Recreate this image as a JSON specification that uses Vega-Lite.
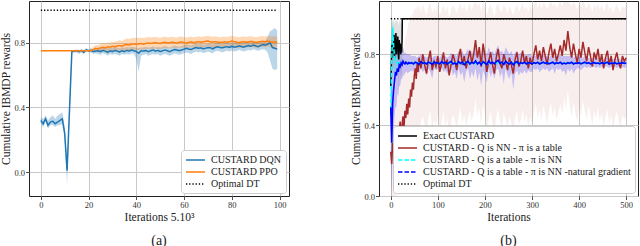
{
"$schema": "https://vega.github.io/schema/vega-lite/v6.json",
"padding": {"left": 0, "top": 0, "right": 0, "bottom": 0},
"autosize": {"type": "pad"},
"spacing": 90,
"bounds": "flush",
"datasets": {
"dqn": [
{"x":0,"y":0.32,"l":0.30,"h":0.34},{"x":1,"y":0.30,"l":0.28,"h":0.33},{"x":2,"y":0.33,"l":0.31,"h":0.35},{"x":3,"y":0.29,"l":0.27,"h":0.32},{"x":4,"y":0.31,"l":0.29,"h":0.34},{"x":5,"y":0.315,"l":0.29,"h":0.35},{"x":6,"y":0.30,"l":0.28,"h":0.33},{"x":7,"y":0.31,"l":0.29,"h":0.35},{"x":8,"y":0.32,"l":0.29,"h":0.36},{"x":9,"y":0.33,"l":0.30,"h":0.37},
{"x":10,"y":0.24,"l":0.21,"h":0.28},{"x":11,"y":0.01,"l":-0.08,"h":0.06},{"x":12,"y":0.38,"l":0.34,"h":0.42},{"x":13,"y":0.745,"l":0.735,"h":0.755},{"x":14,"y":0.748,"l":0.74,"h":0.755},{"x":15,"y":0.75,"l":0.74,"h":0.76},{"x":16,"y":0.745,"l":0.73,"h":0.755},{"x":17,"y":0.752,"l":0.74,"h":0.76},{"x":18,"y":0.74,"l":0.73,"h":0.755},{"x":19,"y":0.755,"l":0.745,"h":0.765},
{"x":20,"y":0.75,"l":0.74,"h":0.76},{"x":21,"y":0.752,"l":0.74,"h":0.765},{"x":22,"y":0.745,"l":0.73,"h":0.76},{"x":23,"y":0.748,"l":0.735,"h":0.765},{"x":24,"y":0.75,"l":0.73,"h":0.77},{"x":25,"y":0.745,"l":0.725,"h":0.765},{"x":26,"y":0.752,"l":0.735,"h":0.77},{"x":27,"y":0.748,"l":0.73,"h":0.77},{"x":28,"y":0.74,"l":0.72,"h":0.765},{"x":29,"y":0.75,"l":0.73,"h":0.77},
{"x":30,"y":0.745,"l":0.725,"h":0.768},{"x":31,"y":0.752,"l":0.73,"h":0.775},{"x":32,"y":0.748,"l":0.725,"h":0.77},{"x":33,"y":0.742,"l":0.72,"h":0.765},{"x":34,"y":0.75,"l":0.73,"h":0.772},{"x":35,"y":0.745,"l":0.725,"h":0.768},{"x":36,"y":0.752,"l":0.73,"h":0.775},{"x":37,"y":0.748,"l":0.725,"h":0.77},{"x":38,"y":0.755,"l":0.735,"h":0.775},{"x":39,"y":0.75,"l":0.73,"h":0.772},
{"x":40,"y":0.745,"l":0.70,"h":0.77},{"x":41,"y":0.735,"l":0.62,"h":0.765},{"x":42,"y":0.75,"l":0.72,"h":0.772},{"x":43,"y":0.748,"l":0.725,"h":0.77},{"x":44,"y":0.752,"l":0.73,"h":0.775},{"x":45,"y":0.745,"l":0.72,"h":0.77},{"x":46,"y":0.75,"l":0.725,"h":0.772},{"x":47,"y":0.755,"l":0.73,"h":0.778},{"x":48,"y":0.748,"l":0.725,"h":0.77},{"x":49,"y":0.752,"l":0.73,"h":0.775},
{"x":50,"y":0.745,"l":0.72,"h":0.77},{"x":51,"y":0.75,"l":0.725,"h":0.775},{"x":52,"y":0.755,"l":0.73,"h":0.78},{"x":53,"y":0.75,"l":0.725,"h":0.775},{"x":54,"y":0.745,"l":0.72,"h":0.77},{"x":55,"y":0.752,"l":0.725,"h":0.778},{"x":56,"y":0.758,"l":0.735,"h":0.782},{"x":57,"y":0.755,"l":0.73,"h":0.78},{"x":58,"y":0.75,"l":0.725,"h":0.775},{"x":59,"y":0.755,"l":0.73,"h":0.78},
{"x":60,"y":0.76,"l":0.735,"h":0.785},{"x":61,"y":0.765,"l":0.74,"h":0.79},{"x":62,"y":0.76,"l":0.735,"h":0.785},{"x":63,"y":0.758,"l":0.73,"h":0.783},{"x":64,"y":0.765,"l":0.74,"h":0.79},{"x":65,"y":0.77,"l":0.745,"h":0.795},{"x":66,"y":0.765,"l":0.74,"h":0.79},{"x":67,"y":0.768,"l":0.745,"h":0.792},{"x":68,"y":0.762,"l":0.735,"h":0.787},{"x":69,"y":0.765,"l":0.74,"h":0.79},
{"x":70,"y":0.77,"l":0.745,"h":0.795},{"x":71,"y":0.768,"l":0.74,"h":0.793},{"x":72,"y":0.762,"l":0.735,"h":0.788},{"x":73,"y":0.77,"l":0.745,"h":0.795},{"x":74,"y":0.775,"l":0.75,"h":0.80},{"x":75,"y":0.77,"l":0.745,"h":0.795},{"x":76,"y":0.768,"l":0.74,"h":0.795},{"x":77,"y":0.772,"l":0.745,"h":0.80},{"x":78,"y":0.775,"l":0.75,"h":0.80},{"x":79,"y":0.77,"l":0.745,"h":0.797},
{"x":80,"y":0.778,"l":0.752,"h":0.803},{"x":81,"y":0.772,"l":0.745,"h":0.80},{"x":82,"y":0.775,"l":0.748,"h":0.80},{"x":83,"y":0.78,"l":0.755,"h":0.805},{"x":84,"y":0.776,"l":0.75,"h":0.802},{"x":85,"y":0.772,"l":0.745,"h":0.80},{"x":86,"y":0.778,"l":0.75,"h":0.805},{"x":87,"y":0.782,"l":0.755,"h":0.808},{"x":88,"y":0.778,"l":0.752,"h":0.805},{"x":89,"y":0.785,"l":0.76,"h":0.81},
{"x":90,"y":0.78,"l":0.755,"h":0.805},{"x":91,"y":0.775,"l":0.75,"h":0.80},{"x":92,"y":0.782,"l":0.755,"h":0.808},{"x":93,"y":0.788,"l":0.76,"h":0.812},{"x":94,"y":0.785,"l":0.755,"h":0.812},{"x":95,"y":0.79,"l":0.74,"h":0.835},{"x":96,"y":0.80,"l":0.69,"h":0.87},{"x":97,"y":0.77,"l":0.64,"h":0.88},{"x":98,"y":0.765,"l":0.63,"h":0.89},{"x":99,"y":0.76,"l":0.64,"h":0.875}
],
"ppo": [
{"x":0,"y":0.75,"l":0.748,"h":0.752},{"x":20,"y":0.75,"l":0.748,"h":0.752},
{"x":21,"y":0.752,"l":0.745,"h":0.76},{"x":22,"y":0.758,"l":0.745,"h":0.775},{"x":23,"y":0.765,"l":0.745,"h":0.785},{"x":24,"y":0.762,"l":0.74,"h":0.785},{"x":25,"y":0.768,"l":0.745,"h":0.79},{"x":26,"y":0.772,"l":0.745,"h":0.80},{"x":27,"y":0.768,"l":0.74,"h":0.795},{"x":28,"y":0.775,"l":0.745,"h":0.80},{"x":29,"y":0.772,"l":0.74,"h":0.80},
{"x":30,"y":0.778,"l":0.745,"h":0.805},{"x":31,"y":0.775,"l":0.745,"h":0.805},{"x":32,"y":0.78,"l":0.75,"h":0.81},{"x":33,"y":0.782,"l":0.75,"h":0.815},{"x":34,"y":0.778,"l":0.745,"h":0.81},{"x":35,"y":0.785,"l":0.75,"h":0.82},{"x":36,"y":0.788,"l":0.752,"h":0.825},{"x":37,"y":0.785,"l":0.75,"h":0.822},{"x":38,"y":0.79,"l":0.755,"h":0.828},{"x":39,"y":0.792,"l":0.755,"h":0.83},
{"x":40,"y":0.79,"l":0.752,"h":0.828},{"x":41,"y":0.792,"l":0.755,"h":0.83},{"x":42,"y":0.795,"l":0.76,"h":0.83},{"x":43,"y":0.79,"l":0.755,"h":0.828},{"x":44,"y":0.795,"l":0.76,"h":0.832},{"x":45,"y":0.798,"l":0.762,"h":0.835},{"x":46,"y":0.795,"l":0.758,"h":0.832},{"x":47,"y":0.798,"l":0.76,"h":0.835},{"x":48,"y":0.80,"l":0.765,"h":0.835},{"x":49,"y":0.797,"l":0.76,"h":0.833},
{"x":50,"y":0.795,"l":0.758,"h":0.83},{"x":51,"y":0.80,"l":0.765,"h":0.835},{"x":52,"y":0.802,"l":0.768,"h":0.836},{"x":53,"y":0.798,"l":0.762,"h":0.833},{"x":54,"y":0.80,"l":0.765,"h":0.835},{"x":55,"y":0.803,"l":0.77,"h":0.837},{"x":56,"y":0.80,"l":0.766,"h":0.834},{"x":57,"y":0.798,"l":0.764,"h":0.832},{"x":58,"y":0.802,"l":0.768,"h":0.836},{"x":59,"y":0.805,"l":0.77,"h":0.838},
{"x":60,"y":0.80,"l":0.768,"h":0.834},{"x":61,"y":0.798,"l":0.765,"h":0.832},{"x":62,"y":0.802,"l":0.77,"h":0.835},{"x":63,"y":0.805,"l":0.772,"h":0.838},{"x":64,"y":0.80,"l":0.768,"h":0.833},{"x":65,"y":0.803,"l":0.77,"h":0.836},{"x":66,"y":0.806,"l":0.773,"h":0.839},{"x":67,"y":0.802,"l":0.77,"h":0.835},{"x":68,"y":0.805,"l":0.772,"h":0.838},{"x":69,"y":0.808,"l":0.775,"h":0.84},
{"x":70,"y":0.81,"l":0.778,"h":0.842},{"x":71,"y":0.805,"l":0.772,"h":0.838},{"x":72,"y":0.803,"l":0.77,"h":0.836},{"x":73,"y":0.806,"l":0.773,"h":0.839},{"x":74,"y":0.804,"l":0.77,"h":0.837},{"x":75,"y":0.80,"l":0.768,"h":0.833},{"x":76,"y":0.803,"l":0.77,"h":0.836},{"x":77,"y":0.806,"l":0.774,"h":0.838},{"x":78,"y":0.802,"l":0.77,"h":0.835},{"x":79,"y":0.805,"l":0.772,"h":0.838},
{"x":80,"y":0.81,"l":0.778,"h":0.842},{"x":81,"y":0.806,"l":0.774,"h":0.838},{"x":82,"y":0.803,"l":0.77,"h":0.836},{"x":83,"y":0.80,"l":0.767,"h":0.833},{"x":84,"y":0.804,"l":0.77,"h":0.837},{"x":85,"y":0.806,"l":0.773,"h":0.839},{"x":86,"y":0.802,"l":0.77,"h":0.835},{"x":87,"y":0.805,"l":0.772,"h":0.838},{"x":88,"y":0.808,"l":0.775,"h":0.84},{"x":89,"y":0.804,"l":0.771,"h":0.837},
{"x":90,"y":0.80,"l":0.768,"h":0.833},{"x":91,"y":0.803,"l":0.77,"h":0.836},{"x":92,"y":0.806,"l":0.773,"h":0.839},{"x":93,"y":0.808,"l":0.775,"h":0.84},{"x":94,"y":0.805,"l":0.772,"h":0.838},{"x":95,"y":0.81,"l":0.777,"h":0.842},{"x":96,"y":0.806,"l":0.77,"h":0.84},{"x":97,"y":0.803,"l":0.768,"h":0.838},{"x":98,"y":0.805,"l":0.77,"h":0.84},{"x":99,"y":0.802,"l":0.768,"h":0.836}
],
"opta": [{"x":0,"y":1.0},{"x":99,"y":1.0}],
"optb": [{"x":0,"y":1.0},{"x":500,"y":1.0}],
"exact": [
{"x":0,"y":0.62,"l":0.40,"h":0.85},{"x":1,"y":0.70,"l":0.50,"h":0.90},{"x":2,"y":0.85,"l":0.70,"h":1.0},{"x":3,"y":0.78,"l":0.60,"h":0.95},{"x":4,"y":0.88,"l":0.72,"h":1.0},{"x":5,"y":0.80,"l":0.62,"h":0.98},{"x":6,"y":0.86,"l":0.70,"h":1.0},{"x":7,"y":0.91,"l":0.78,"h":1.0},{"x":8,"y":0.78,"l":0.60,"h":0.96},{"x":9,"y":0.85,"l":0.70,"h":1.0},
{"x":10,"y":0.82,"l":0.66,"h":0.98},{"x":11,"y":0.92,"l":0.80,"h":1.0},{"x":12,"y":0.80,"l":0.62,"h":0.98},{"x":13,"y":0.86,"l":0.70,"h":1.0},{"x":14,"y":0.83,"l":0.68,"h":0.98},{"x":15,"y":0.90,"l":0.78,"h":1.0},{"x":16,"y":0.80,"l":0.62,"h":0.98},{"x":17,"y":0.77,"l":0.60,"h":0.95},{"x":18,"y":0.88,"l":0.74,"h":1.0},{"x":19,"y":0.82,"l":0.66,"h":0.98},
{"x":20,"y":0.86,"l":0.72,"h":1.0},{"x":21,"y":0.80,"l":0.64,"h":0.97},{"x":22,"y":0.84,"l":0.70,"h":0.99},{"x":23,"y":0.81,"l":0.66,"h":0.97},{"x":24,"y":0.88,"l":0.74,"h":1.0},{"x":24.5,"y":1.0,"l":1.0,"h":1.0},{"x":500,"y":1.0,"l":1.0,"h":1.0}
],
"qnn": [
{"x":0,"y":0.25,"l":0,"h":0.55},{"x":2,"y":0.18,"l":0,"h":0.5},{"x":4,"y":0.30,"l":0,"h":0.6},{"x":6,"y":0.24,"l":0,"h":0.55},{"x":8,"y":0.35,"l":0,"h":0.65},{"x":10,"y":0.22,"l":0,"h":0.6},{"x":12,"y":0.33,"l":0,"h":0.65},{"x":14,"y":0.38,"l":0.02,"h":0.7},{"x":16,"y":0.28,"l":0,"h":0.68},{"x":18,"y":0.36,"l":0.03,"h":0.72},
{"x":20,"y":0.42,"l":0.05,"h":0.78},{"x":22,"y":0.32,"l":0.02,"h":0.75},{"x":24,"y":0.40,"l":0.06,"h":0.8},{"x":26,"y":0.45,"l":0.08,"h":0.85},{"x":28,"y":0.38,"l":0.06,"h":0.82},{"x":30,"y":0.48,"l":0.1,"h":0.88},{"x":32,"y":0.44,"l":0.1,"h":0.9},{"x":34,"y":0.52,"l":0.15,"h":0.92},{"x":36,"y":0.46,"l":0.12,"h":0.95},{"x":38,"y":0.55,"l":0.18,"h":0.98},
{"x":40,"y":0.50,"l":0.15,"h":1.0},{"x":42,"y":0.60,"l":0.22,"h":1.02},{"x":44,"y":0.56,"l":0.2,"h":1.0},{"x":46,"y":0.64,"l":0.26,"h":1.04},{"x":48,"y":0.60,"l":0.25,"h":1.02},{"x":50,"y":0.68,"l":0.3,"h":1.05},{"x":52,"y":0.72,"l":0.32,"h":1.06},{"x":54,"y":0.66,"l":0.3,"h":1.04},{"x":56,"y":0.75,"l":0.35,"h":1.08},{"x":58,"y":0.70,"l":0.33,"h":1.05},
{"x":60,"y":0.78,"l":0.38,"h":1.08},{"x":64,"y":0.72,"l":0.42,"h":1.04},{"x":68,"y":0.80,"l":0.45,"h":1.08},{"x":72,"y":0.74,"l":0.4,"h":1.05},{"x":76,"y":0.69,"l":0.36,"h":1.02},{"x":80,"y":0.77,"l":0.44,"h":1.07},{"x":84,"y":0.82,"l":0.48,"h":1.09},{"x":88,"y":0.71,"l":0.38,"h":1.03},{"x":92,"y":0.76,"l":0.43,"h":1.06},{"x":96,"y":0.73,"l":0.4,"h":1.04},
{"x":100,"y":0.79,"l":0.46,"h":1.08},{"x":104,"y":0.70,"l":0.37,"h":1.02},{"x":108,"y":0.75,"l":0.42,"h":1.05},{"x":112,"y":0.81,"l":0.47,"h":1.08},{"x":116,"y":0.72,"l":0.39,"h":1.04},{"x":120,"y":0.77,"l":0.44,"h":1.07},{"x":124,"y":0.68,"l":0.35,"h":1.01},{"x":128,"y":0.74,"l":0.41,"h":1.05},{"x":132,"y":0.80,"l":0.46,"h":1.08},{"x":136,"y":0.76,"l":0.43,"h":1.06},
{"x":140,"y":0.71,"l":0.38,"h":1.03},{"x":144,"y":0.78,"l":0.45,"h":1.07},{"x":148,"y":0.83,"l":0.5,"h":1.09},{"x":152,"y":0.74,"l":0.41,"h":1.05},{"x":156,"y":0.79,"l":0.46,"h":1.08},{"x":160,"y":0.72,"l":0.39,"h":1.04},{"x":164,"y":0.77,"l":0.44,"h":1.06},{"x":168,"y":0.82,"l":0.48,"h":1.09},{"x":172,"y":0.75,"l":0.42,"h":1.05},{"x":176,"y":0.80,"l":0.47,"h":1.08},
{"x":180,"y":0.88,"l":0.55,"h":1.1},{"x":184,"y":0.78,"l":0.45,"h":1.07},{"x":188,"y":0.84,"l":0.5,"h":1.09},{"x":192,"y":0.73,"l":0.4,"h":1.04},{"x":196,"y":0.86,"l":0.52,"h":1.1},{"x":200,"y":0.79,"l":0.46,"h":1.07},{"x":204,"y":0.70,"l":0.37,"h":1.02},{"x":208,"y":0.76,"l":0.43,"h":1.06},{"x":212,"y":0.81,"l":0.48,"h":1.08},{"x":216,"y":0.74,"l":0.41,"h":1.05},
{"x":220,"y":0.69,"l":0.36,"h":1.01},{"x":224,"y":0.78,"l":0.45,"h":1.07},{"x":228,"y":0.83,"l":0.49,"h":1.09},{"x":232,"y":0.75,"l":0.42,"h":1.05},{"x":236,"y":0.72,"l":0.39,"h":1.04},{"x":240,"y":0.80,"l":0.47,"h":1.08},{"x":244,"y":0.76,"l":0.43,"h":1.06},{"x":248,"y":0.71,"l":0.38,"h":1.03},{"x":252,"y":0.78,"l":0.45,"h":1.07},{"x":256,"y":0.74,"l":0.41,"h":1.05},
{"x":260,"y":0.69,"l":0.36,"h":1.02},{"x":264,"y":0.77,"l":0.44,"h":1.06},{"x":268,"y":0.81,"l":0.48,"h":1.08},{"x":272,"y":0.73,"l":0.4,"h":1.04},{"x":276,"y":0.76,"l":0.43,"h":1.06},{"x":280,"y":0.82,"l":0.49,"h":1.09},{"x":284,"y":0.75,"l":0.42,"h":1.05},{"x":288,"y":0.79,"l":0.46,"h":1.07},{"x":292,"y":0.72,"l":0.39,"h":1.04},{"x":296,"y":0.78,"l":0.45,"h":1.07},
{"x":300,"y":0.74,"l":0.41,"h":1.05},{"x":304,"y":0.80,"l":0.47,"h":1.08},{"x":308,"y":0.85,"l":0.52,"h":1.1},{"x":312,"y":0.77,"l":0.44,"h":1.06},{"x":316,"y":0.82,"l":0.49,"h":1.09},{"x":320,"y":0.76,"l":0.43,"h":1.06},{"x":324,"y":0.84,"l":0.51,"h":1.09},{"x":328,"y":0.79,"l":0.46,"h":1.08},{"x":332,"y":0.74,"l":0.41,"h":1.05},{"x":336,"y":0.81,"l":0.48,"h":1.08},
{"x":340,"y":0.86,"l":0.53,"h":1.1},{"x":344,"y":0.78,"l":0.45,"h":1.07},{"x":348,"y":0.83,"l":0.5,"h":1.09},{"x":352,"y":0.76,"l":0.43,"h":1.06},{"x":356,"y":0.80,"l":0.47,"h":1.08},{"x":360,"y":0.85,"l":0.52,"h":1.1},{"x":364,"y":0.79,"l":0.46,"h":1.07},{"x":368,"y":0.88,"l":0.55,"h":1.1},{"x":372,"y":0.82,"l":0.49,"h":1.09},{"x":376,"y":0.93,"l":0.6,"h":1.1},
{"x":380,"y":0.84,"l":0.51,"h":1.09},{"x":384,"y":0.78,"l":0.45,"h":1.07},{"x":388,"y":0.86,"l":0.53,"h":1.1},{"x":392,"y":0.80,"l":0.47,"h":1.08},{"x":396,"y":0.75,"l":0.42,"h":1.05},{"x":400,"y":0.83,"l":0.5,"h":1.09},{"x":404,"y":0.78,"l":0.45,"h":1.07},{"x":408,"y":0.87,"l":0.54,"h":1.1},{"x":412,"y":0.81,"l":0.48,"h":1.08},{"x":416,"y":0.76,"l":0.43,"h":1.06},
{"x":420,"y":0.84,"l":0.51,"h":1.09},{"x":424,"y":0.79,"l":0.46,"h":1.07},{"x":428,"y":0.73,"l":0.4,"h":1.04},{"x":432,"y":0.81,"l":0.48,"h":1.08},{"x":436,"y":0.77,"l":0.44,"h":1.06},{"x":440,"y":0.83,"l":0.5,"h":1.09},{"x":444,"y":0.75,"l":0.42,"h":1.05},{"x":448,"y":0.80,"l":0.47,"h":1.08},{"x":452,"y":0.72,"l":0.39,"h":1.04},{"x":456,"y":0.78,"l":0.45,"h":1.07},
{"x":460,"y":0.82,"l":0.49,"h":1.09},{"x":464,"y":0.74,"l":0.41,"h":1.05},{"x":468,"y":0.79,"l":0.46,"h":1.07},{"x":472,"y":0.71,"l":0.38,"h":1.03},{"x":476,"y":0.77,"l":0.44,"h":1.06},{"x":480,"y":0.81,"l":0.48,"h":1.08},{"x":484,"y":0.75,"l":0.42,"h":1.05},{"x":488,"y":0.72,"l":0.39,"h":1.04},{"x":492,"y":0.79,"l":0.46,"h":1.07},{"x":496,"y":0.76,"l":0.43,"h":1.06},{"x":500,"y":0.78,"l":0.45,"h":1.07}
],
"qtab": [
{"x":0,"y":0.45,"l":0.2,"h":0.7},{"x":2,"y":0.75,"l":0.55,"h":0.95},{"x":4,"y":0.95,"l":0.8,"h":1.0},{"x":6,"y":0.85,"l":0.7,"h":0.95},{"x":8,"y":0.78,"l":0.68,"h":0.88},{"x":10,"y":0.76,"l":0.7,"h":0.82},{"x":14,"y":0.75,"l":0.72,"h":0.78},{"x":20,"y":0.75,"l":0.74,"h":0.76},{"x":500,"y":0.75,"l":0.745,"h":0.755}
],
"qtabng": [
{"x":0,"y":0.50,"l":0.2,"h":0.8},{"x":2,"y":0.30,"l":0,"h":0.65},{"x":4,"y":0.52,"l":0.25,"h":0.8},{"x":6,"y":0.60,"l":0.35,"h":0.85},{"x":8,"y":0.65,"l":0.45,"h":0.85},{"x":10,"y":0.70,"l":0.5,"h":0.88},{"x":12,"y":0.68,"l":0.5,"h":0.86},{"x":14,"y":0.72,"l":0.58,"h":0.86},{"x":16,"y":0.70,"l":0.56,"h":0.85},{"x":18,"y":0.74,"l":0.62,"h":0.86},
{"x":20,"y":0.73,"l":0.62,"h":0.84},{"x":22,"y":0.75,"l":0.66,"h":0.84},{"x":24,"y":0.74,"l":0.66,"h":0.83},{"x":26,"y":0.76,"l":0.68,"h":0.84},{"x":28,"y":0.75,"l":0.68,"h":0.82},{"x":30,"y":0.745,"l":0.69,"h":0.8},{"x":32,"y":0.755,"l":0.7,"h":0.81},{"x":34,"y":0.75,"l":0.7,"h":0.8},{"x":36,"y":0.745,"l":0.69,"h":0.8},{"x":38,"y":0.752,"l":0.7,"h":0.8},
{"x":40,"y":0.748,"l":0.7,"h":0.8},{"x":44,"y":0.752,"l":0.71,"h":0.79},{"x":48,"y":0.745,"l":0.7,"h":0.79},{"x":52,"y":0.755,"l":0.72,"h":0.79},{"x":56,"y":0.75,"l":0.71,"h":0.78},{"x":60,"y":0.742,"l":0.69,"h":0.79},{"x":64,"y":0.758,"l":0.72,"h":0.8},{"x":68,"y":0.748,"l":0.7,"h":0.79},{"x":72,"y":0.752,"l":0.71,"h":0.79},{"x":76,"y":0.745,"l":0.68,"h":0.78},
{"x":80,"y":0.755,"l":0.72,"h":0.79},{"x":84,"y":0.75,"l":0.7,"h":0.8},{"x":88,"y":0.743,"l":0.66,"h":0.78},{"x":92,"y":0.756,"l":0.72,"h":0.79},{"x":96,"y":0.75,"l":0.71,"h":0.79},{"x":100,"y":0.752,"l":0.72,"h":0.78},{"x":104,"y":0.745,"l":0.7,"h":0.78},{"x":108,"y":0.758,"l":0.72,"h":0.8},{"x":112,"y":0.748,"l":0.7,"h":0.79},{"x":116,"y":0.754,"l":0.71,"h":0.79},
{"x":120,"y":0.745,"l":0.69,"h":0.78},{"x":124,"y":0.752,"l":0.72,"h":0.79},{"x":128,"y":0.76,"l":0.72,"h":0.81},{"x":132,"y":0.745,"l":0.68,"h":0.79},{"x":136,"y":0.75,"l":0.7,"h":0.8},{"x":140,"y":0.742,"l":0.66,"h":0.79},{"x":144,"y":0.758,"l":0.72,"h":0.82},{"x":148,"y":0.748,"l":0.68,"h":0.8},{"x":152,"y":0.755,"l":0.7,"h":0.82},{"x":156,"y":0.74,"l":0.64,"h":0.79},
{"x":160,"y":0.752,"l":0.7,"h":0.81},{"x":164,"y":0.76,"l":0.72,"h":0.83},{"x":168,"y":0.745,"l":0.66,"h":0.8},{"x":172,"y":0.755,"l":0.7,"h":0.82},{"x":176,"y":0.748,"l":0.67,"h":0.8},{"x":180,"y":0.762,"l":0.72,"h":0.84},{"x":184,"y":0.745,"l":0.65,"h":0.8},{"x":188,"y":0.755,"l":0.7,"h":0.82},{"x":192,"y":0.74,"l":0.62,"h":0.79},{"x":196,"y":0.758,"l":0.71,"h":0.83},
{"x":200,"y":0.75,"l":0.68,"h":0.82},{"x":204,"y":0.742,"l":0.64,"h":0.8},{"x":208,"y":0.762,"l":0.72,"h":0.84},{"x":212,"y":0.748,"l":0.67,"h":0.81},{"x":216,"y":0.755,"l":0.7,"h":0.82},{"x":220,"y":0.745,"l":0.66,"h":0.8},{"x":224,"y":0.758,"l":0.71,"h":0.83},{"x":228,"y":0.765,"l":0.72,"h":0.85},{"x":232,"y":0.748,"l":0.67,"h":0.81},{"x":236,"y":0.755,"l":0.7,"h":0.82},
{"x":240,"y":0.742,"l":0.63,"h":0.8},{"x":244,"y":0.76,"l":0.72,"h":0.84},{"x":248,"y":0.75,"l":0.68,"h":0.82},{"x":252,"y":0.745,"l":0.66,"h":0.8},{"x":256,"y":0.755,"l":0.7,"h":0.82},{"x":260,"y":0.74,"l":0.6,"h":0.79},{"x":264,"y":0.752,"l":0.69,"h":0.81},{"x":268,"y":0.758,"l":0.71,"h":0.82},{"x":272,"y":0.745,"l":0.68,"h":0.8},{"x":276,"y":0.752,"l":0.7,"h":0.81},
{"x":280,"y":0.748,"l":0.69,"h":0.8},{"x":284,"y":0.755,"l":0.71,"h":0.8},{"x":288,"y":0.745,"l":0.69,"h":0.79},{"x":292,"y":0.752,"l":0.71,"h":0.8},{"x":296,"y":0.75,"l":0.7,"h":0.8},{"x":300,"y":0.745,"l":0.7,"h":0.79},{"x":304,"y":0.752,"l":0.72,"h":0.79},{"x":308,"y":0.748,"l":0.71,"h":0.79},{"x":312,"y":0.755,"l":0.72,"h":0.8},{"x":316,"y":0.745,"l":0.7,"h":0.79},
{"x":320,"y":0.75,"l":0.71,"h":0.79},{"x":324,"y":0.755,"l":0.72,"h":0.8},{"x":328,"y":0.748,"l":0.71,"h":0.79},{"x":332,"y":0.752,"l":0.72,"h":0.79},{"x":336,"y":0.745,"l":0.7,"h":0.78},{"x":340,"y":0.75,"l":0.71,"h":0.79},{"x":344,"y":0.755,"l":0.72,"h":0.8},{"x":348,"y":0.745,"l":0.69,"h":0.79},{"x":352,"y":0.752,"l":0.72,"h":0.79},{"x":356,"y":0.748,"l":0.71,"h":0.79},
{"x":360,"y":0.755,"l":0.72,"h":0.8},{"x":364,"y":0.745,"l":0.7,"h":0.79},{"x":368,"y":0.75,"l":0.71,"h":0.79},{"x":372,"y":0.745,"l":0.68,"h":0.79},{"x":376,"y":0.752,"l":0.72,"h":0.79},{"x":380,"y":0.748,"l":0.7,"h":0.79},{"x":384,"y":0.755,"l":0.72,"h":0.8},{"x":388,"y":0.745,"l":0.69,"h":0.78},{"x":392,"y":0.75,"l":0.71,"h":0.79},{"x":396,"y":0.748,"l":0.72,"h":0.78},
{"x":400,"y":0.752,"l":0.72,"h":0.79},{"x":404,"y":0.745,"l":0.71,"h":0.78},{"x":408,"y":0.75,"l":0.72,"h":0.78},{"x":412,"y":0.755,"l":0.73,"h":0.79},{"x":416,"y":0.748,"l":0.72,"h":0.78},{"x":420,"y":0.752,"l":0.73,"h":0.78},{"x":424,"y":0.745,"l":0.72,"h":0.77},{"x":428,"y":0.75,"l":0.73,"h":0.78},{"x":432,"y":0.752,"l":0.73,"h":0.78},{"x":436,"y":0.748,"l":0.72,"h":0.77},
{"x":440,"y":0.75,"l":0.73,"h":0.78},{"x":444,"y":0.745,"l":0.72,"h":0.77},{"x":448,"y":0.752,"l":0.73,"h":0.78},{"x":452,"y":0.748,"l":0.72,"h":0.77},{"x":456,"y":0.75,"l":0.73,"h":0.78},{"x":460,"y":0.755,"l":0.73,"h":0.78},{"x":464,"y":0.745,"l":0.72,"h":0.77},{"x":468,"y":0.75,"l":0.73,"h":0.78},{"x":472,"y":0.748,"l":0.72,"h":0.77},{"x":476,"y":0.752,"l":0.73,"h":0.78},
{"x":480,"y":0.745,"l":0.72,"h":0.77},{"x":484,"y":0.75,"l":0.73,"h":0.78},{"x":488,"y":0.748,"l":0.72,"h":0.77},{"x":492,"y":0.752,"l":0.73,"h":0.78},{"x":496,"y":0.748,"l":0.72,"h":0.77},{"x":500,"y":0.75,"l":0.73,"h":0.78}
]
},
"hconcat": [
{
"width": 260, "height": 195,
"title": {"text": "(a)"},
"layer": [
{"data": {"name": "dqn"}, "mark": {"type": "area", "color": "#1f77b4", "opacity": 0.3, "clip": true},
 "encoding": {
  "x": {"field": "x", "type": "quantitative", "scale": {"domain": [-4.95, 103.95], "nice": false, "zero": false}, "axis": {"values": [0, 20, 40, 60, 80, 100], "format": "d", "title": "Iterations 5.10³", "labelOverlap": false}},
  "y": {"field": "l", "type": "quantitative", "scale": {"domain": [-0.146, 1.057], "nice": false, "zero": false}, "axis": {"values": [0, 0.2, 0.4, 0.6, 0.8, 1.0], "format": ".1f", "title": "Cumulative IBMDP rewards", "labelOverlap": false}},
  "y2": {"field": "h"}}},
{"data": {"name": "ppo"}, "mark": {"type": "area", "color": "#ff7f0e", "opacity": 0.3, "clip": true},
 "encoding": {"x": {"field": "x", "type": "quantitative"}, "y": {"field": "l", "type": "quantitative"}, "y2": {"field": "h"}}},
{"data": {"name": "dqn"}, "mark": {"type": "line", "strokeWidth": 1.5, "clip": true},
 "encoding": {"x": {"field": "x", "type": "quantitative"}, "y": {"field": "y", "type": "quantitative"},
  "color": {"datum": "CUSTARD DQN", "scale": {"domain": ["CUSTARD DQN", "CUSTARD PPO", "Optimal DT"], "range": ["#1f77b4", "#ff7f0e", "#000000"]}, "legend": {"title": null}},
  "strokeDash": {"datum": "CUSTARD DQN", "scale": {"domain": ["CUSTARD DQN", "CUSTARD PPO", "Optimal DT"], "range": [[1, 0], [1, 0], [1.3, 1.9]]}, "legend": {"title": null}}}},
{"data": {"name": "ppo"}, "mark": {"type": "line", "strokeWidth": 1.5, "clip": true},
 "encoding": {"x": {"field": "x", "type": "quantitative"}, "y": {"field": "y", "type": "quantitative"},
  "color": {"datum": "CUSTARD PPO"}, "strokeDash": {"datum": "CUSTARD PPO"}}},
{"data": {"name": "opta"}, "mark": {"type": "line", "strokeWidth": 1.5, "clip": true},
 "encoding": {"x": {"field": "x", "type": "quantitative"}, "y": {"field": "y", "type": "quantitative"},
  "color": {"datum": "Optimal DT"}, "strokeDash": {"datum": "Optimal DT"}}}
]
},
{
"width": 259, "height": 195,
"title": {"text": "(b)"},
"layer": [
{"data": {"name": "qnn"}, "mark": {"type": "area", "color": "#a52a2a", "opacity": 0.08, "clip": true},
 "encoding": {
  "x": {"field": "x", "type": "quantitative", "scale": {"domain": [-25, 525], "nice": false, "zero": false}, "axis": {"values": [0, 100, 200, 300, 400, 500], "format": "d", "title": "Iterations", "labelOverlap": false}},
  "y": {"field": "l", "type": "quantitative", "scale": {"domain": [0, 1.1], "nice": false, "zero": false}, "axis": {"values": [0, 0.2, 0.4, 0.6, 0.8, 1.0], "format": ".1f", "title": "Cumulative IBMDP rewards", "labelOverlap": false}},
  "y2": {"field": "h"}}},
{"data": {"name": "qtabng"}, "mark": {"type": "area", "color": "#0000ff", "opacity": 0.2, "clip": true},
 "encoding": {"x": {"field": "x", "type": "quantitative"}, "y": {"field": "l", "type": "quantitative"}, "y2": {"field": "h"}}},
{"data": {"name": "qtab"}, "mark": {"type": "area", "color": "#00ffff", "opacity": 0.25, "clip": true},
 "encoding": {"x": {"field": "x", "type": "quantitative"}, "y": {"field": "l", "type": "quantitative"}, "y2": {"field": "h"}}},
{"data": {"name": "exact"}, "mark": {"type": "area", "color": "#000000", "opacity": 0.12, "clip": true},
 "encoding": {"x": {"field": "x", "type": "quantitative"}, "y": {"field": "l", "type": "quantitative"}, "y2": {"field": "h"}}},
{"data": {"name": "optb"}, "mark": {"type": "line", "strokeWidth": 1.5, "clip": true},
 "encoding": {"x": {"field": "x", "type": "quantitative"}, "y": {"field": "y", "type": "quantitative"},
  "color": {"datum": "Optimal DT", "scale": {"domain": ["Exact CUSTARD", "CUSTARD - Q is NN - π is a table", "CUSTARD - Q is a table - π is NN", "CUSTARD - Q is a table - π is NN -natural gradient", "Optimal DT"], "range": ["#000000", "#a52a2a", "#00ffff", "#0000ff", "#000000"]}, "legend": {"title": null}},
  "strokeDash": {"datum": "Optimal DT", "scale": {"domain": ["Exact CUSTARD", "CUSTARD - Q is NN - π is a table", "CUSTARD - Q is a table - π is NN", "CUSTARD - Q is a table - π is NN -natural gradient", "Optimal DT"], "range": [[1, 0], [1, 0], [4.5, 2], [4.5, 2], [1.3, 1.9]]}, "legend": {"title": null}}}},
{"data": {"name": "exact"}, "mark": {"type": "line", "strokeWidth": 1.5, "clip": true},
 "encoding": {"x": {"field": "x", "type": "quantitative"}, "y": {"field": "y", "type": "quantitative"},
  "color": {"datum": "Exact CUSTARD"}, "strokeDash": {"datum": "Exact CUSTARD"}}},
{"data": {"name": "qnn"}, "mark": {"type": "line", "strokeWidth": 1.5, "clip": true},
 "encoding": {"x": {"field": "x", "type": "quantitative"}, "y": {"field": "y", "type": "quantitative"},
  "color": {"datum": "CUSTARD - Q is NN - π is a table"}, "strokeDash": {"datum": "CUSTARD - Q is NN - π is a table"}}},
{"data": {"name": "qtab"}, "mark": {"type": "line", "strokeWidth": 1.5, "clip": true},
 "encoding": {"x": {"field": "x", "type": "quantitative"}, "y": {"field": "y", "type": "quantitative"},
  "color": {"datum": "CUSTARD - Q is a table - π is NN"}, "strokeDash": {"datum": "CUSTARD - Q is a table - π is NN"}}},
{"data": {"name": "qtabng"}, "mark": {"type": "line", "strokeWidth": 1.6, "clip": true},
 "encoding": {"x": {"field": "x", "type": "quantitative"}, "y": {"field": "y", "type": "quantitative"},
  "color": {"datum": "CUSTARD - Q is a table - π is NN -natural gradient"}}}
]
}
],
"resolve": {"scale": {"color": "independent", "strokeDash": "independent"}, "legend": {"color": "independent", "strokeDash": "independent"}},
"config": {
 "font": "Liberation Serif",
 "view": {"stroke": "#222222", "strokeWidth": 1},
 "axis": {"labelFont": "Liberation Serif", "labelFontSize": 8.5, "labelColor": "#333333", "labelBound": false, "titleFont": "Liberation Serif", "titleFontSize": 11.5, "titleFontWeight": "normal", "titleColor": "#222222", "gridColor": "#c8c8c8", "gridWidth": 1, "domain": false, "tickColor": "#222222", "tickSize": 3.5, "tickWidth": 0.8, "labelPadding": 1, "titlePadding": 2},
 "title": {"font": "Liberation Serif", "fontSize": 14, "fontWeight": "normal", "color": "#222222", "orient": "bottom", "anchor": "middle", "offset": 11},
 "legend": {"orient": "bottom-right", "offset": 3, "symbolType": "M-1,0H2.8", "symbolSize": 100, "symbolStrokeWidth": 1.5, "labelFont": "Liberation Serif", "labelFontSize": 10, "labelColor": "#222222", "labelLimit": 400, "labelOffset": 14, "fillColor": "#ffffff", "strokeColor": "#cccccc", "padding": 4, "cornerRadius": 3, "rowPadding": 1}
}
}
